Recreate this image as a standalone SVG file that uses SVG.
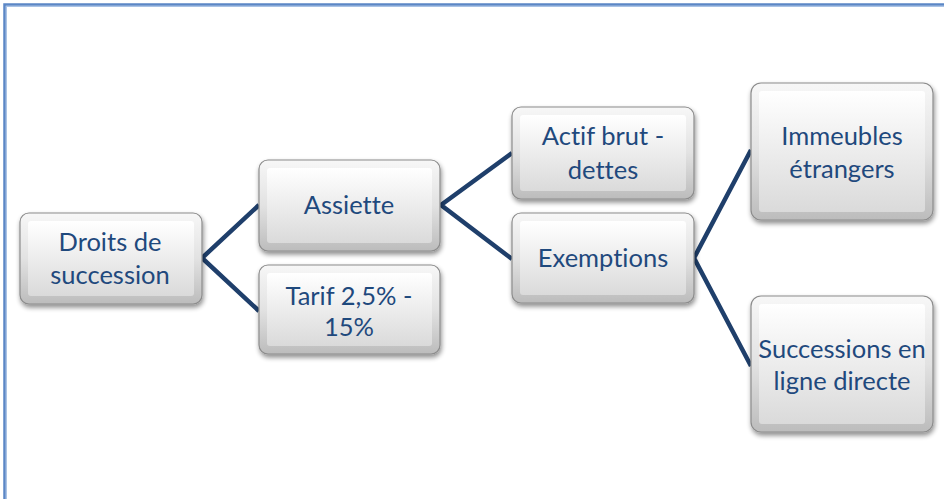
<svg xmlns="http://www.w3.org/2000/svg" width="944" height="499" viewBox="0 0 944 499">
  <defs>
    <linearGradient id="outerGrad" x1="0" y1="0" x2="0" y2="1">
      <stop offset="0" stop-color="#f7f7f7"/>
      <stop offset="0.5" stop-color="#e2e2e2"/>
      <stop offset="1" stop-color="#bcbcbc"/>
    </linearGradient>
    <linearGradient id="innerGrad" x1="0" y1="0" x2="0" y2="1">
      <stop offset="0" stop-color="#ffffff"/>
      <stop offset="1" stop-color="#dadada"/>
    </linearGradient>
    <filter id="shadow" x="-10%" y="-10%" width="125%" height="130%">
      <feGaussianBlur in="SourceAlpha" stdDeviation="2.5"/>
      <feOffset dx="1" dy="3" result="b"/>
      <feComponentTransfer><feFuncA type="linear" slope="0.45"/></feComponentTransfer>
      <feMerge><feMergeNode/><feMergeNode in="SourceGraphic"/></feMerge>
    </filter>
  </defs>
  <style>
    .box { fill: url(#outerGrad); stroke: #8c8c8c; stroke-width: 1.2; filter: url(#shadow); }
    .face { fill: url(#innerGrad); stroke: none; }
    .lbl { font-family: Lato, "Open Sans", "Liberation Sans", sans-serif; font-size: 25.5px; fill: #1f497d; text-anchor: middle; font-variant-ligatures: none; }
    .conn { fill: none; stroke: #1f3f6b; stroke-width: 4.5; stroke-linejoin: miter; }
  </style>

  <rect x="0" y="0" width="944" height="499" fill="#ffffff"/>
  <!-- page frame -->
  <rect x="4.5" y="4.5" width="1000" height="600" fill="none" stroke="#5b87c6" stroke-width="2.5"/>
  <rect x="6.5" y="6.5" width="1000" height="600" fill="none" stroke="#a9c3e6" stroke-width="1"/>

  <g id="connectors">
    <polyline class="conn" points="259,205 202,258 259,311"/>
    <polyline class="conn" points="512,153 441,205 512,259"/>
    <polyline class="conn" points="751,150 694,258 751,366"/>
  </g>

  <g id="droits">
    <rect class="box" x="20" y="213" width="182" height="91" rx="9"/>
    <rect class="face" x="28" y="221" width="166" height="75" rx="3"/>
    <text class="lbl" x="110" y="251">Droits de</text>
    <text class="lbl" x="110" y="284">succession</text>
  </g>

  <g id="assiette">
    <rect class="box" x="259" y="160" width="181" height="91" rx="9"/>
    <rect class="face" x="267" y="168" width="165" height="75" rx="3"/>
    <text class="lbl" x="349" y="214">Assiette</text>
  </g>

  <g id="tarif">
    <rect class="box" x="259" y="265" width="181" height="89" rx="9"/>
    <rect class="face" x="267" y="273" width="165" height="73" rx="3"/>
    <text class="lbl" x="349" y="305">Tarif 2,5% -</text>
    <text class="lbl" x="349" y="336">15%</text>
  </g>

  <g id="actif">
    <rect class="box" x="512" y="107" width="182" height="92" rx="9"/>
    <rect class="face" x="520" y="115" width="166" height="76" rx="3"/>
    <text class="lbl" x="603" y="145">Actif brut -</text>
    <text class="lbl" x="603" y="179">dettes</text>
  </g>

  <g id="exemptions">
    <rect class="box" x="512" y="213" width="182" height="90" rx="9"/>
    <rect class="face" x="520" y="221" width="166" height="74" rx="3"/>
    <text class="lbl" x="603" y="267">Exemptions</text>
  </g>

  <g id="immeubles">
    <rect class="box" x="751" y="83" width="182" height="137" rx="10"/>
    <rect class="face" x="759" y="91" width="166" height="121" rx="3"/>
    <text class="lbl" x="842" y="145">Immeubles</text>
    <text class="lbl" x="842" y="178">étrangers</text>
  </g>

  <g id="successions">
    <rect class="box" x="751" y="296" width="182" height="136" rx="10"/>
    <rect class="face" x="759" y="304" width="166" height="120" rx="3"/>
    <text class="lbl" x="842" y="358">Successions en</text>
    <text class="lbl" x="842" y="390">ligne directe</text>
  </g>
</svg>
